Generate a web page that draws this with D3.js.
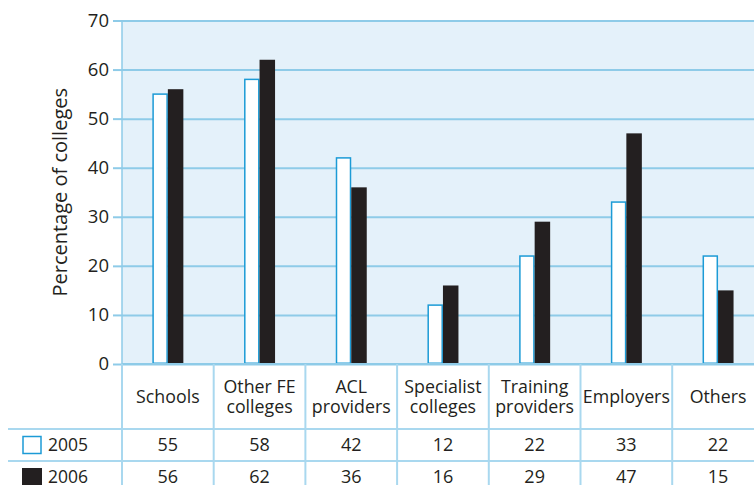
<!DOCTYPE html>
<html>
<head>
<meta charset="utf-8">
<script src="https://cdn.jsdelivr.net/npm/d3@7/dist/d3.min.js"></script>
<style>
  html, body { margin: 0; padding: 0; background: #fff; }
  svg { display: block; }
  text { font-family: "Open Sans", sans-serif; fill: #231f20; }
</style>
</head>
<body>
<svg id="chart" width="754" height="485"></svg>
<script>
const categories = [["Schools"], ["Other FE", "colleges"], ["ACL", "providers"], ["Specialist", "colleges"], ["Training", "providers"], ["Employers"], ["Others"]];
const seriesNames = ["2005", "2006"];
const values2005 = [55, 58, 42, 12, 22, 33, 22];
const values2006 = [56, 62, 36, 16, 29, 47, 15];
const yTicks = [0, 10, 20, 30, 40, 50, 60, 70];
const yTitle = "Percentage of colleges";

const W = 754, H = 485;
const plotLeft = 122, plotTop = 20.5, plotBottom = 364, colW = 91.7;
const plotRight = plotLeft + colW * categories.length;
const headerBottom = 429, row1Bottom = 461, row2Bottom = 493;
const FONT = "'Open Sans', sans-serif";

const svg = d3.select("#chart");
const keys = categories.map((c, i) => "c" + i);
const x = d3.scaleBand().domain(keys).range([plotLeft, plotRight]).padding(0);
const y = d3.scaleLinear().domain([0, 70]).range([plotBottom, plotTop]);
const xs = d3.scaleBand().domain(seriesNames).range([-15.5, 15.5]).padding(0);

const gridCol = "#8ecbe8", tableCol = "#a9d8ef", bg = "#e4f1fa", dark = "#231f20", blue = "#1c9bd6";

// plot background
svg.append("rect").attr("x", plotLeft).attr("y", plotTop).attr("width", plotRight - plotLeft).attr("height", plotBottom - plotTop).attr("fill", bg);

// y axis grid + ticks
const yAxis = d3.axisLeft(y).tickValues(yTicks).tickSize(-(plotRight - plotLeft)).tickPadding(13).tickFormat(d3.format("d"));
const gy = svg.append("g").attr("transform", `translate(${plotLeft},0)`).call(yAxis);
gy.select(".domain").remove();
gy.selectAll(".tick line").attr("stroke", gridCol).attr("stroke-width", 2);
gy.selectAll(".tick").append("line").attr("x1", -9).attr("x2", 0).attr("stroke", gridCol).attr("stroke-width", 2);
gy.selectAll(".tick text").attr("font-size", 18.5).attr("fill", dark).attr("font-family", FONT).attr("x", -13);

// left border of plot
svg.append("line").attr("x1", plotLeft).attr("x2", plotLeft).attr("y1", plotTop).attr("y2", plotBottom).attr("stroke", gridCol).attr("stroke-width", 1.5);

// bars
const data = keys.map((k, i) => ({ k, v: [values2005[i], values2006[i]] }));
const gb = svg.append("g");
data.forEach(d => {
  const cx = x(d.k) + x.bandwidth() / 2;
  gb.append("rect")
    .attr("x", cx + xs("2005") + 0.75).attr("y", y(d.v[0]))
    .attr("width", xs.bandwidth() - 1.5).attr("height", y(0) - y(d.v[0]) - 0.75)
    .attr("fill", "#fff").attr("stroke", blue).attr("stroke-width", 1.5);
  gb.append("rect")
    .attr("x", cx + xs("2006")).attr("y", y(d.v[1]))
    .attr("width", xs.bandwidth()).attr("height", y(0) - y(d.v[1]))
    .attr("fill", dark);
});

// table lines
const gt = svg.append("g").attr("stroke", tableCol).attr("stroke-width", 2);
gt.append("line").attr("x1", plotLeft).attr("x2", W).attr("y1", plotBottom).attr("y2", plotBottom).attr("stroke", gridCol);
[headerBottom, row1Bottom].forEach(yy => gt.append("line").attr("x1", 8).attr("x2", W).attr("y1", yy).attr("y2", yy));
keys.forEach(k => {
  gt.append("line").attr("x1", x(k)).attr("x2", x(k)).attr("y1", plotBottom).attr("y2", H);
});
gt.append("line").attr("x1", plotRight).attr("x2", plotRight).attr("y1", plotBottom).attr("y2", H);

// category labels
const headerMid = (plotBottom + headerBottom) / 2;
categories.forEach((lines, i) => {
  const cx = x(keys[i]) + x.bandwidth() / 2;
  const t = svg.append("text").attr("text-anchor", "middle").attr("font-size", 17.8);
  const n = lines.length;
  lines.forEach((ln, j) => {
    t.append("tspan").attr("x", cx).attr("y", headerMid + (j - (n - 1) / 2) * 20).attr("dy", "0.35em").text(ln);
  });
});

// table values
const rows = [values2005, values2006];
const rowMids = [(headerBottom + row1Bottom) / 2, (row1Bottom + row2Bottom) / 2];
rows.forEach((vals, r) => {
  vals.forEach((v, i) => {
    svg.append("text").attr("x", x(keys[i]) + x.bandwidth() / 2).attr("y", rowMids[r]).attr("dy", "0.35em")
      .attr("text-anchor", "middle").attr("font-size", 18).text(v);
  });
});

// legend in table
seriesNames.forEach((s, r) => {
  const cy = rowMids[r];
  if (r === 0) {
    svg.append("rect").attr("x", 23).attr("y", cy - 8.5).attr("width", 18).attr("height", 17)
      .attr("fill", "#fff").attr("stroke", blue).attr("stroke-width", 1.5);
  } else {
    svg.append("rect").attr("x", 22).attr("y", cy - 9).attr("width", 20).attr("height", 19).attr("fill", dark);
  }
  svg.append("text").attr("x", 48).attr("y", cy).attr("dy", "0.35em").attr("font-size", 17.5).text(s);
});

// y title
svg.append("text").attr("transform", `translate(67,${(plotTop + plotBottom) / 2}) rotate(-90)`)
  .attr("text-anchor", "middle").attr("font-size", 20).text(yTitle);
</script>
</body>
</html>
